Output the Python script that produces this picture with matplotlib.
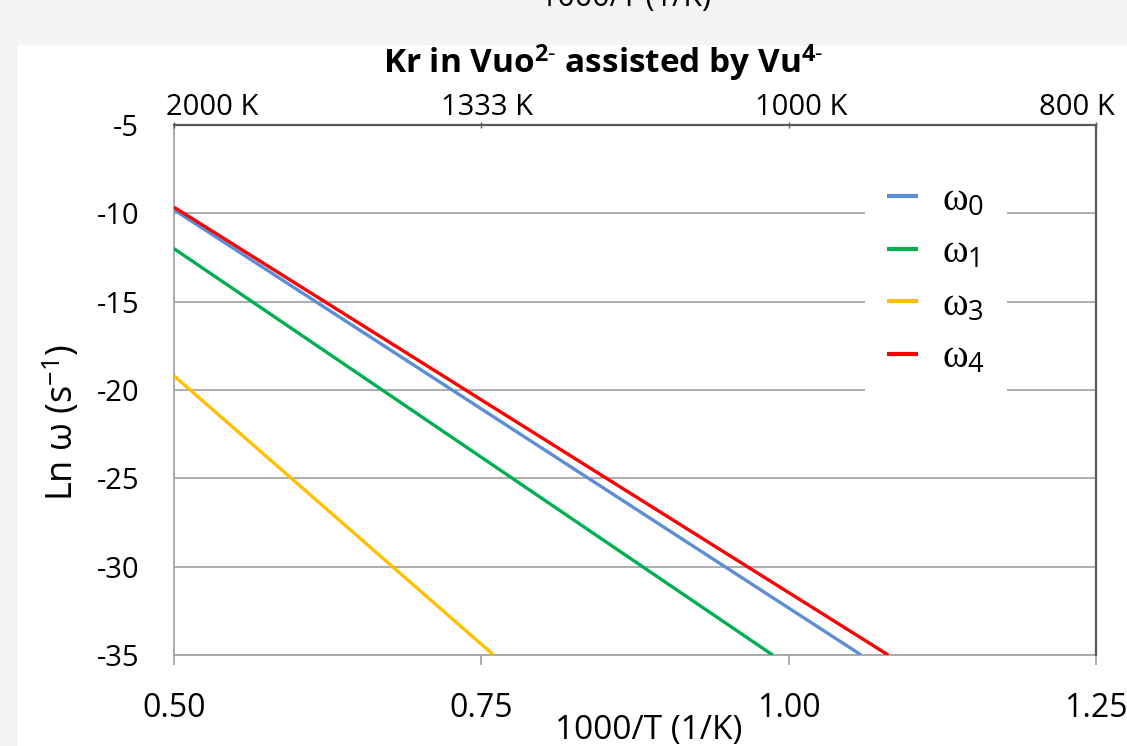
import matplotlib.pyplot as plt
from matplotlib.patches import Rectangle
from matplotlib.transforms import ScaledTranslation

# 1000/T values (1/K) and ln(omega), start and end of each straight line
x_w0 = [0.50, 1.059]
y_w0 = [-9.80, -35.0]
x_w1 = [0.50, 0.987]
y_w1 = [-12.0, -35.0]
x_w3 = [0.50, 0.760]
y_w3 = [-19.2, -35.0]
x_w4 = [0.50, 1.081]
y_w4 = [-9.65, -35.0]

labels = [r'$ω_{0}$', r'$ω_{1}$', r'$ω_{3}$', r'$ω_{4}$']
colors = ['#5b8ed6', '#00b050', '#ffc000', '#ff0000']

x_ticks = [0.50, 0.75, 1.00, 1.25]
top_labels = ['2000 K', '1333 K', '1000 K', '800 K']
top_shift = [38, 6, 13, -19]  # px, excel nudges the end labels inward
y_ticks = [-35, -30, -25, -20, -15, -10, -5]

plt.rcParams['font.family'] = ['Open Sans', 'DejaVu Sans']
plt.rcParams['mathtext.fontset'] = 'custom'
plt.rcParams['mathtext.rm'] = 'Open Sans'
plt.rcParams['mathtext.it'] = 'Liberation Serif'  # only the legend omegas use math italic
plt.rcParams['mathtext.bf'] = 'Open Sans:bold'
plt.rcParams['axes.unicode_minus'] = False

W, H = 1127, 746
fig = plt.figure(figsize=(W / 100, H / 100), dpi=100)
fig.patch.set_facecolor('#f4f4f4')
fig.patches.append(Rectangle((18 / W, 0), 1, 1 - 45 / H, transform=fig.transFigure,
                             facecolor='white', edgecolor='none', zorder=-5))

ax = fig.add_axes([174 / W, 91 / H, 922 / W, 530 / H])
ax.set_facecolor('white')

for xs, ys, lab, c in zip([x_w0, x_w1, x_w3, x_w4], [y_w0, y_w1, y_w3, y_w4], labels, colors):
    ax.plot(xs, ys, color=c, lw=2.4, label=lab, solid_capstyle='butt', zorder=3)

ax.set_xlim(0.5, 1.25)
ax.set_ylim(-35, -5)
ax.set_xticks(x_ticks)
ax.set_xticklabels(['%.2f' % v for v in x_ticks])
ax.set_yticks(y_ticks)
ax.yaxis.grid(True, color='#a6a6a6', lw=1.3)
ax.set_axisbelow(True)

for s in ['left', 'bottom']:
    ax.spines[s].set_color('#a6a6a6')
    ax.spines[s].set_linewidth(1.3)
ax.spines['right'].set_visible(False)
ax.spines['top'].set_visible(False)
ax.tick_params(axis='x', length=7.5, width=1.3, color='#a6a6a6', labelsize=23, pad=19)
ax.tick_params(axis='y', length=0, labelsize=21, pad=25)

ax2 = ax.twiny()
ax2.set_xlim(ax.get_xlim())
ax2.set_xticks(x_ticks)
ax2.set_xticklabels(top_labels)
ax2.tick_params(axis='x', length=5, width=1, color='#595959', labelsize=21, pad=0, direction='inout')
ax2.spines['left'].set_visible(False)
ax2.spines['bottom'].set_visible(False)
for s in ['top', 'right']:
    ax2.spines[s].set_color('#595959')
    ax2.spines[s].set_linewidth(1.6)
for lbl, dx in zip(ax2.get_xticklabels(), top_shift):
    lbl.set_transform(lbl.get_transform() + ScaledTranslation(dx / 100, 0, fig.dpi_scale_trans))

ax.set_ylabel('Ln ω (s$^{\mathregular{-1}}$)', fontsize=26)
ax.yaxis.set_label_coords((82 - 174) / 922, (655 - 423) / 530)
fig.text(649 / W, 1 - 731 / H, '1000/T (1/K)', fontsize=24, ha='center', va='center')
fig.text(626 / W, 1 + 2 / H, '1000/T (1/K)', fontsize=22, ha='center', va='center')
fig.text(603 / W, 1 - 63 / H, r'Kr in Vuo$^{\mathbf{2\text{-}}}$ assisted by Vu$^{\mathbf{4\text{-}}}$',
         fontsize=24, fontweight='bold', ha='center', va='center')

leg = ax.legend(loc='upper left', bbox_to_anchor=(0.749, 0.936), borderaxespad=0, frameon=True,
                prop={'size': 28},
                handlelength=0.8, handletextpad=0.62, labelspacing=0.37, borderpad=0.57)
leg.get_frame().set_facecolor('white')
leg.get_frame().set_edgecolor('none')
leg.get_frame().set_alpha(1)
for h in leg.get_lines():
    h.set_linewidth(3)

fig.savefig('out.png', dpi=100, facecolor=fig.get_facecolor())
